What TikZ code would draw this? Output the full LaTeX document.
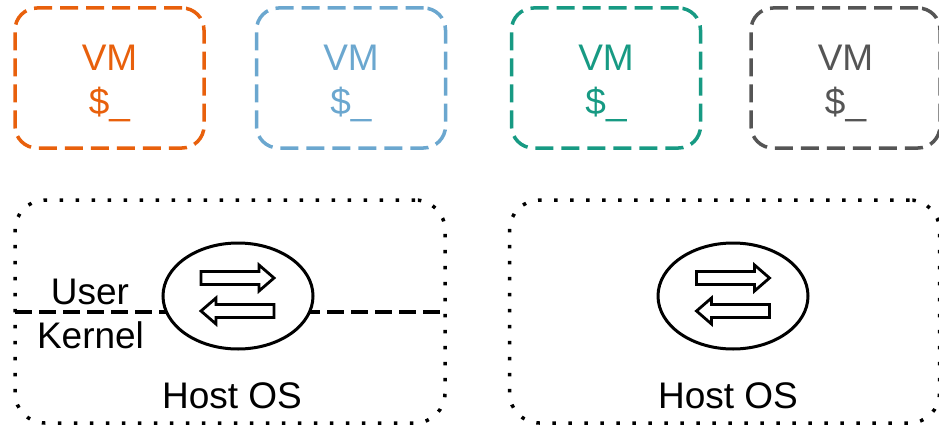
\documentclass[tikz,border=0pt]{standalone}
\usepackage{fontspec}
\setmainfont{Liberation Sans}
\usetikzlibrary{shapes.geometric}
\definecolor{cOrange}{HTML}{E8600C}
\definecolor{cBlue}{HTML}{6BA7CF}
\definecolor{cGreen}{HTML}{179A83}
\definecolor{cGray}{HTML}{555555}
\tikzset{
  vmbox/.style={draw, line width=3.5pt, dash pattern=on 18pt off 8pt, rounded corners=22pt,
    minimum width=189pt, minimum height=140pt, inner sep=0pt},
  vmtext/.style={font=\fontsize{37}{44}\selectfont, align=center, inner sep=0pt},
  hostbox/.style={draw, line width=3.5pt, dash pattern=on 3.5pt off 12.5pt, rounded corners=30pt,
    minimum width=430pt, minimum height=223pt, inner sep=0pt},
  bigtext/.style={font=\fontsize{37}{44}\selectfont, inner sep=0pt, anchor=base},
  switch/.style={ellipse, draw, fill=white, line width=3pt, minimum width=150pt, minimum height=106pt, inner sep=0pt},
  harrow/.style={draw, line width=2.8pt, line join=miter, fill=white},
  layerline/.style={line width=3.2pt, dash pattern=on 17pt off 7pt}
}
\begin{document}
\begin{tikzpicture}[x=1pt,y=-1pt]
\useasboundingbox (0,0) rectangle (939,428);
% VM boxes
\node[vmbox, cOrange] (vm1) at (109.5,78) {};
\node[vmbox, cBlue]   (vm2) at (351,78) {};
\node[vmbox, cGreen]  (vm3) at (606,78) {};
\node[vmbox, cGray]   (vm4) at (845.5,78) {};
\node[vmtext, text=cOrange] (t1) at ([yshift=-5pt]vm1.center) {VM\\\$\_};
\node[vmtext, text=cBlue]   (t2) at ([yshift=-5pt]vm2.center) {VM\\\$\_};
\node[vmtext, text=cGreen]  (t3) at ([yshift=-5pt]vm3.center) {VM\\\$\_};
\node[vmtext, text=cGray]   (t4) at ([yshift=-5pt]vm4.center) {VM\\\$\_};
% Host boxes
\node[hostbox] (h1) at (230,311.5) {};
\node[hostbox] (h2) at (724.5,311.5) {};
\coordinate (ll) at (15,312);
\coordinate (lr) at (445,312);
\draw[layerline] (ll) -- (lr);
% switches
\node[switch] (s1) at (238,296) {};
\node[switch] (s2) at (733,296) {};
% arrows in the switches
\foreach \cx in {237.5, 733}{
  \draw[harrow] (\cx-36.5,278-6.5) -- (\cx+21.5,278-6.5) -- (\cx+21.5,278-13) -- (\cx+36.5,278)
     -- (\cx+21.5,278+13) -- (\cx+21.5,278+6.5) -- (\cx-36.5,278+6.5) -- cycle;
  \draw[harrow] (\cx+36.5,311-6.5) -- (\cx-21.5,311-6.5) -- (\cx-21.5,311-13) -- (\cx-36.5,311)
     -- (\cx-21.5,311+13) -- (\cx-21.5,311+6.5) -- (\cx+36.5,311+6.5) -- cycle;
}
% labels
\node[bigtext] (user) at (90,304) {User};
\node[bigtext] (kern) at (90.5,348) {Kernel};
\node[bigtext] (ho1) at (232,408) {Host OS};
\node[bigtext] (ho2) at (728,408) {Host OS};
\end{tikzpicture}
\end{document}
